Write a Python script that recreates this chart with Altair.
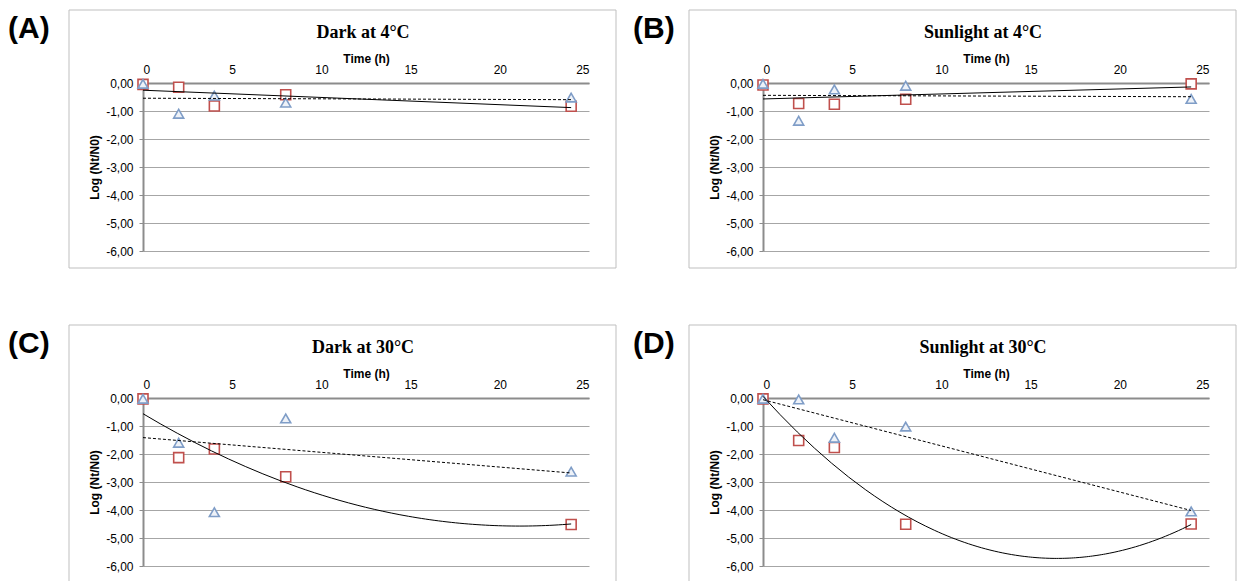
import altair as alt
import pandas as pd

# ---- data ----
TIME = [0, 2, 4, 8, 24]
PANELS = ["A", "B", "C", "D"]
TITLES = {
    "A": "Dark at 4°C",
    "B": "Sunlight at 4°C",
    "C": "Dark at 30°C",
    "D": "Sunlight at 30°C",
}
SQUARE_A = [-0.05, -0.15, -0.82, -0.42, -0.83]
TRIANGLE_A = [-0.03, -1.10, -0.45, -0.70, -0.52]
SQUARE_B = [-0.07, -0.73, -0.76, -0.58, -0.03]
TRIANGLE_B = [-0.03, -1.35, -0.23, -0.10, -0.57]
SQUARE_C = [-0.03, -2.13, -1.82, -2.81, -4.52]
TRIANGLE_C = [-0.03, -1.60, -4.08, -0.73, -2.63]
SQUARE_D = [-0.03, -1.52, -1.77, -4.51, -4.50]
TRIANGLE_D = [-0.03, -0.05, -1.42, -1.02, -4.05]

SQUARES = {"A": SQUARE_A, "B": SQUARE_B, "C": SQUARE_C, "D": SQUARE_D}
TRIANGLES = {"A": TRIANGLE_A, "B": TRIANGLE_B, "C": TRIANGLE_C, "D": TRIANGLE_D}
SOLID_FIT = {"A": "linear", "B": "linear", "C": "poly", "D": "poly"}
X_TICKS = [0, 5, 10, 15, 20, 25]
Y_TICKS = [0, -1, -2, -3, -4, -5, -6]

rows = []
for p in PANELS:
    for t, v in zip(TIME, SQUARES[p]):
        rows.append({"panel": p, "series": "square", "t": t, "y": v})
    for t, v in zip(TIME, TRIANGLES[p]):
        rows.append({"panel": p, "series": "triangle", "t": t, "y": v})
df = pd.DataFrame(rows)

W, H = 446, 168
SANS = "Liberation Sans"
SERIF = "Liberation Serif"
AXIS_GRAY = "#8c8c8c"
GRID_GRAY = "#a6a6a6"

one = pd.DataFrame({"k": [0]})

Y_LABEL_EXPR = "replace(replace(format(datum.value, '.2f'), '.', ','), '\u2212', '-')"


def panel(p):
    base = alt.Chart(df).transform_filter(alt.datum.panel == p)
    x = alt.X(
        "t:Q",
        scale=alt.Scale(domain=[0, 25], nice=False, zero=False),
        axis=alt.Axis(
            orient="top", values=X_TICKS, title="Time (h)", ticks=False,
            labelPadding=7, titlePadding=-2, grid=False,
            domainColor=AXIS_GRAY, domainWidth=2,
            labelFont=SANS, labelFontSize=12, labelColor="black",
            titleFont=SANS, titleFontSize=12, titleFontWeight="bold",
            titleColor="black",
        ),
    )
    y = alt.Y(
        "y:Q",
        scale=alt.Scale(domain=[-6, 0], nice=False, zero=False),
        axis=alt.Axis(
            values=Y_TICKS, title="Log (Nt/N0)",
            labelExpr=Y_LABEL_EXPR,
            tickSize=4, tickColor=AXIS_GRAY, labelPadding=6,
            grid=True, gridColor=GRID_GRAY, gridWidth=1,
            domainColor=AXIS_GRAY, domainWidth=2,
            labelFont=SANS, labelFontSize=12, labelColor="black",
            titleFont=SANS, titleFontSize=12, titleFontWeight="bold",
            titleColor="black", titlePadding=4,
        ),
    )

    frame = alt.Chart(one).mark_rect(
        fillOpacity=0, stroke="#bfbfbf", strokeWidth=1
    ).encode(
        x=alt.value(-74), x2=alt.value(W + 27),
        y=alt.value(-73), y2=alt.value(H + 17),
    )

    squares = base.transform_filter(alt.datum.series == "square").mark_point(
        shape="square", filled=True, fill="white", stroke="#c0504d",
        strokeWidth=1.6, size=100, opacity=1,
    ).encode(x=x, y=y)

    triangles = base.transform_filter(alt.datum.series == "triangle").mark_point(
        shape="triangle-up", filled=True, fill="#eef2f8", stroke="#7f9dc7",
        strokeWidth=1.6, size=100, opacity=1,
    ).encode(x=x, y=y)

    sq = base.transform_filter(alt.datum.series == "square")
    if SOLID_FIT[p] == "poly":
        solid_src = sq.transform_regression("t", "y", method="poly", order=2)
    else:
        solid_src = sq.transform_regression("t", "y", method="linear")
    solid = solid_src.mark_line(color="black", strokeWidth=1).encode(x=x, y=y)

    dashed = base.transform_filter(alt.datum.series == "triangle").transform_regression(
        "t", "y", method="linear"
    ).mark_line(color="black", strokeWidth=1, strokeDash=[3, 2]).encode(x=x, y=y)

    title = alt.Chart(one).mark_text(
        text=TITLES[p], font=SERIF, fontSize=18, fontWeight="bold",
        align="center", baseline="alphabetic", color="black",
    ).encode(x=alt.value(220), y=alt.value(-45))

    letter_x = -135 if p in ("A", "C") else -130
    letter = alt.Chart(one).mark_text(
        text=f"({p})", font=SANS, fontSize=30, fontWeight="bold",
        align="left", baseline="middle", color="black",
    ).encode(x=alt.value(letter_x), y=alt.value(-54))

    layers = [frame, squares, triangles, solid, dashed, title, letter]
    if p == "A":
        sentinel = alt.Chart(one).mark_rect(opacity=0).encode(
            x=alt.value(-143), x2=alt.value(1242 - 143),
            y=alt.value(-83), y2=alt.value(581 - 83),
        )
        layers = [sentinel] + layers
    return alt.layer(*layers).properties(width=W, height=H)


chart = alt.concat(
    panel("A"), panel("B"), panel("C"), panel("D"),
    columns=2, spacing={"row": 147, "column": 174}, bounds="flush",
).configure_view(stroke=None).properties(padding=0, background="white")

chart.save("out.html", embed_options={"renderer": "svg", "actions": False})
